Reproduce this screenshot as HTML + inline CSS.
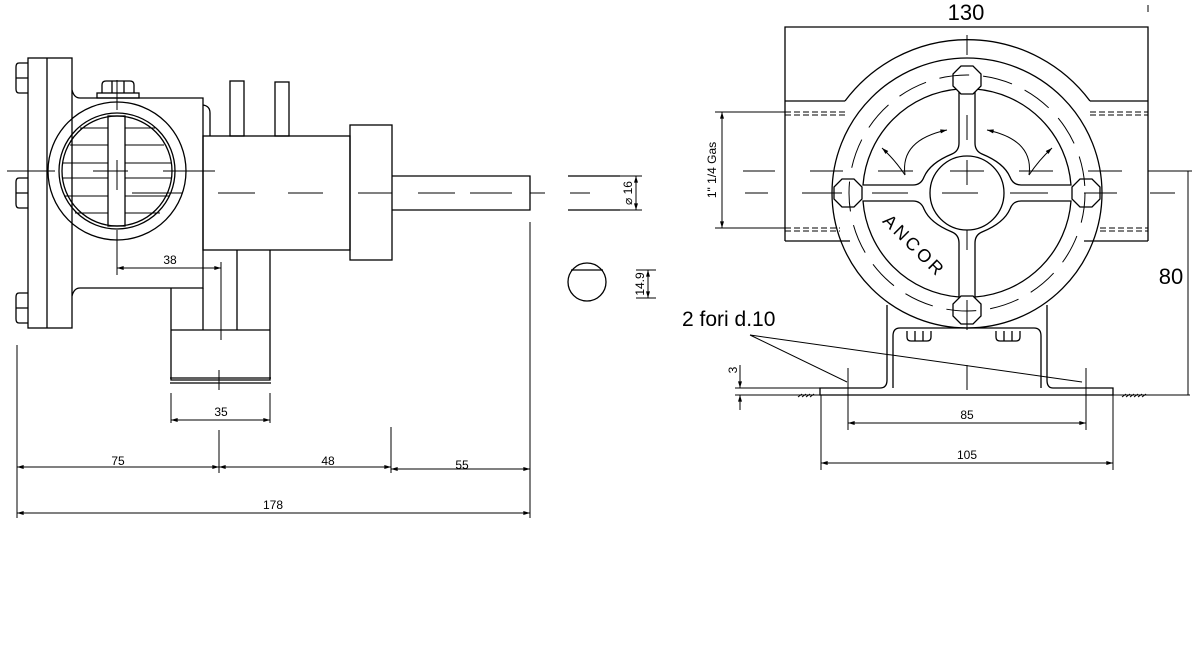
<!DOCTYPE html>
<html><head><meta charset="utf-8"><style>
html,body{margin:0;padding:0;background:#fff;width:1198px;height:653px;overflow:hidden}
svg{display:block}
text{font-family:"Liberation Sans",sans-serif;fill:#000}
</style></head><body>
<svg width="1198" height="653" viewBox="0 0 1198 653" xmlns="http://www.w3.org/2000/svg">
<defs>
<marker id="a" viewBox="0 0 10 6" refX="10" refY="3" markerWidth="8" markerHeight="4" orient="auto-start-reverse"><path d="M0,0 L10,3 L0,6 z" fill="#000"/></marker>
</defs>
<g fill="none" stroke="#000" stroke-width="1.3">
<!-- LEFT VIEW -->
<rect x="28" y="58" width="44" height="270"/>
<line x1="47" y1="58" x2="47" y2="328"/>
<path d="M28,63 h-9 q-3,0 -3,4 v22 q0,4 3,4 h9 M16,78 h12"/>
<path d="M28,178 h-9 q-3,0 -3,4 v22 q0,4 3,4 h9 M16,193 h12"/>
<path d="M28,293 h-9 q-3,0 -3,4 v22 q0,4 3,4 h9 M16,308 h12"/>
<path d="M72,90 q2,8 8,8 H203 V288 H80 q-6,0 -8,8"/>
<path d="M203,105 q7,1 7,8 V136"/>
<rect x="97" y="93" width="42" height="5"/>
<path d="M102,93 v-8 q0,-4 4,-4 h24 q4,0 4,4 v8 M112,81 v12 M124,81 v12"/>
<circle cx="117" cy="171" r="69"/>
<circle cx="117" cy="171" r="58"/>
<circle cx="117" cy="171" r="55"/>
<rect x="108" y="116" width="17" height="110"/>
<g stroke-width="1">
<path d="M70,145 H108 M125,145 H164 M62,163 H108 M125,163 H172 M62,178 H108 M125,178 H172 M64,196 H108 M125,196 H170 M75,213 H108 M125,213 H160 M80,128 H108 M125,128 H155"/>
</g>
<rect x="203" y="136" width="147" height="114"/>
<rect x="230" y="81" width="14" height="55"/>
<rect x="275" y="82" width="14" height="54"/>
<rect x="350" y="125" width="42" height="135"/>
<path d="M392,176 H530 V210 H392"/>
<path d="M568,176 H620 M568,210 H620"/>
<path d="M171,288 V380 H270 V250 M203,288 V330 M237,250 V330 M171,330 H270 M170,378 H271 M170,383 H271"/>
<circle cx="587" cy="282" r="19"/>
<line x1="571" y1="270" x2="603" y2="270"/>
</g>
<g fill="none" stroke="#000" stroke-width="1">
<path d="M7,171 H55 M93,171 H128 M163,171 H215 M132,193 H183 M218,193 H255 M288,193 H323 M358,193 H392 M418,193 H455 M470,193 H512 M530,193 H545 M570,193 H590"/>
<path d="M117,80 V110 M117,160 V190 M117,230 V275"/>
<line x1="117" y1="268" x2="221" y2="268" marker-start="url(#a)" marker-end="url(#a)"/>
<line x1="221" y1="262" x2="221" y2="340"/>
<line x1="219" y1="370" x2="219" y2="390"/>
<path d="M171,393 V423 M270,393 V423"/>
<line x1="171" y1="420" x2="270" y2="420" marker-start="url(#a)" marker-end="url(#a)"/>
<path d="M17,345 V518 M219,430 V473 M391,427 V473 M530,222 V518"/>
<line x1="17" y1="467" x2="219" y2="467" marker-start="url(#a)" marker-end="url(#a)"/>
<line x1="219" y1="467" x2="391" y2="467" marker-start="url(#a)" marker-end="url(#a)"/>
<line x1="391" y1="469" x2="530" y2="469" marker-start="url(#a)" marker-end="url(#a)"/>
<line x1="17" y1="513" x2="530" y2="513" marker-start="url(#a)" marker-end="url(#a)"/>
<path d="M610,176 H642 M610,210 H642 M636,270 H656 M636,298 H656"/>
<line x1="636" y1="176" x2="636" y2="210" marker-start="url(#a)" marker-end="url(#a)"/>
<line x1="648" y1="270" x2="648" y2="298" marker-start="url(#a)" marker-end="url(#a)"/>
</g>
<g font-size="12">
<text x="170" y="264" text-anchor="middle">38</text>
<text x="221" y="416" text-anchor="middle">35</text>
<text x="118" y="465" text-anchor="middle">75</text>
<text x="328" y="465" text-anchor="middle">48</text>
<text x="462" y="469" text-anchor="middle">55</text>
<text x="273" y="509" text-anchor="middle">178</text>
<text transform="translate(632,193) rotate(-90)" text-anchor="middle">⌀ 16</text>
<text transform="translate(644,284) rotate(-90)" text-anchor="middle">14.9</text>
</g>

<!-- RIGHT VIEW -->
<g fill="none" stroke="#000" stroke-width="1.3">
<path d="M785,241 V27 H1148 V241 M785,241 H850 M1084,241 H1148"/>
<path d="M785,101 H845 M1090,101 H1148"/>
<path d="M845,101 A153,153 0 0 1 1090,101"/>
<circle cx="967" cy="193" r="135"/>
<circle cx="967" cy="193" r="37"/>
<g id="w">
<path d="M959,89 V143 Q959,151 952,154 Q930,163 924,177 Q921,185 913,185 H863 A104,104 0 0 1 959,89 Z"/>
</g>
<use href="#w" transform="translate(1934,0) scale(-1,1)"/>
<use href="#w" transform="translate(0,386) scale(1,-1)"/>
<use href="#w" transform="translate(1934,386) scale(-1,-1)"/>
<polygon points="961,66 973,66 981,74 981,86 973,94 961,94 953,86 953,74" fill="#fff"/>
<polygon points="842,179 854,179 862,187 862,199 854,207 842,207 834,199 834,187" fill="#fff"/>
<polygon points="1080,179 1092,179 1100,187 1100,199 1092,207 1080,207 1072,199 1072,187" fill="#fff"/>
<polygon points="961,296 973,296 981,304 981,316 973,324 961,324 953,316 953,304" fill="#fff"/>
<path d="M887,305 V380 Q887,388 880,388 H820 V395 H1113 V388 H1053 Q1047,388 1047,380 V305"/>
<path d="M893,388 V336 Q893,328 900,328 H1034 Q1041,328 1041,336 V388"/>
<path d="M907,331 v6 q0,4 4,4 h16 q4,0 4,-4 v-6 M915,331 v10 M923,331 v10"/>
<path d="M996,331 v6 q0,4 4,4 h16 q4,0 4,-4 v-6 M1004,331 v10 M1012,331 v10"/>
</g>
<g fill="none" stroke="#000" stroke-width="1">
<path d="M785,112 H845 M785,115 H845 M1090,112 H1148 M1090,115 H1148 M785,228 H840 M785,231 H840 M1100,228 H1148 M1100,231 H1148" stroke-dasharray="6,3"/>
<circle cx="967" cy="193" r="118" stroke-dasharray="30,14"/>
<path d="M905,175 Q900,140 947,130" marker-end="url(#a)"/>
<path d="M905,175 Q895,160 882,148" marker-end="url(#a)"/>
<path d="M1029,175 Q1034,140 987,130" marker-end="url(#a)"/>
<path d="M1029,175 Q1039,160 1052,148" marker-end="url(#a)"/>
<path d="M743,171 H775 M810,171 H843 M878,171 H913 M950,171 H984 M1019,171 H1053 M1088,171 H1122 M1157,171 H1180"/>
<path d="M745,193 H768 M802,193 H842 M872,193 H908 M942,193 H978 M1010,193 H1048 M1084,193 H1117 M1150,193 H1175"/>
<path d="M967,35 V55 M967,115 V140 M967,160 V185 M967,230 V250 M967,300 V330 M967,365 V390"/>
<path d="M715,112 H785 M715,228 H785"/>
<line x1="722" y1="112" x2="722" y2="228" marker-start="url(#a)" marker-end="url(#a)"/>
<path d="M1148,171 H1192"/>
<line x1="1188" y1="171" x2="1188" y2="395"/>
<path d="M735,388 H820 M735,395 H1190"/>
<line x1="740" y1="365" x2="740" y2="388" marker-end="url(#a)"/>
<line x1="740" y1="410" x2="740" y2="395" marker-end="url(#a)"/>
<path d="M798,397 l4,-3 M802,397 l4,-3 M806,397 l4,-3 M810,397 l4,-3 M1122,397 l4,-3 M1126,397 l4,-3 M1130,397 l4,-3 M1134,397 l4,-3 M1138,397 l4,-3 M1142,397 l4,-3"/>
<path d="M848,368 V430 M1086,368 V430 M821,395 V470 M1113,395 V470"/>
<line x1="848" y1="423" x2="1086" y2="423" marker-start="url(#a)" marker-end="url(#a)"/>
<line x1="821" y1="463" x2="1113" y2="463" marker-start="url(#a)" marker-end="url(#a)"/>
<path d="M750,335 L847,382 M750,335 L1082,382"/>
<path d="M1148,5 V12"/>
</g>
<g font-size="12">
<text transform="translate(716,170) rotate(-90)" text-anchor="middle">1"  1/4  Gas</text>
<text transform="translate(737,370) rotate(-90)" text-anchor="middle">3</text>
<text x="967" y="419" text-anchor="middle">85</text>
<text x="967" y="459" text-anchor="middle">105</text>
</g>
<text x="966" y="20" font-size="22" text-anchor="middle">130</text>
<text x="1171" y="284" font-size="22" text-anchor="middle">80</text>
<text x="682" y="326" font-size="21">2 fori d.10</text>
<text transform="translate(910,250) rotate(45)" font-family="Liberation Serif,serif" font-size="18" text-anchor="middle" letter-spacing="3">ANCOR</text>
</svg>
</body></html>
